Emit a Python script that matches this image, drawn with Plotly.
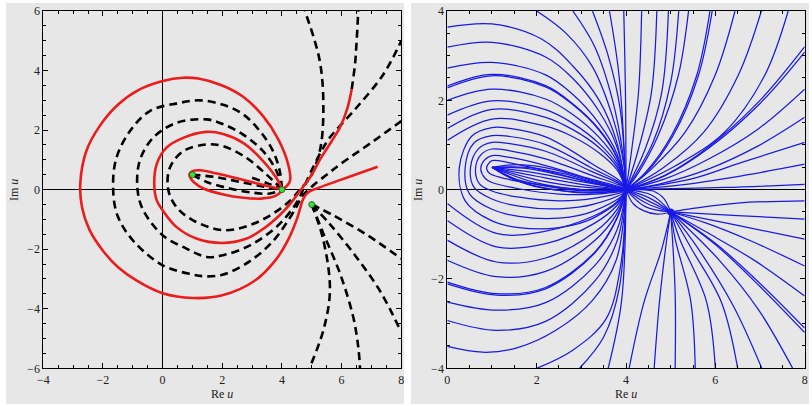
import plotly.graph_objects as go

# ---------------- LEFT PANEL DATA (Re u, Im u) ----------------
saddle_x = [1.0, 4.0, 5.0]
saddle_y = [0.5, 0.0, -0.5]

red_outer = [(4.05, 0.02), (4.27, 0.29), (4.21, 0.85), (3.88, 1.69), (3.37, 2.47), (2.7, 3.12), (2.0, 3.5),
             (1.2, 3.73), (0.69, 3.76), (0.0, 3.65), (-0.8, 3.35), (-1.5, 2.85), (-2.1, 2.15), (-2.56, 1.29),
             (-2.76, 0.2), (-2.7, -0.6), (-2.45, -1.35), (-2.0, -2.05), (-1.5, -2.6), (-0.88, -3.05),
             (0.0, -3.48), (1.02, -3.64), (2.0, -3.55), (3.1, -3.05), (3.8, -2.35), (4.25, -1.6), (4.5, -1.0),
             (4.62, -0.6), (4.72, -0.3), (4.9, -0.08), (5.2, 0.05), (5.8, 0.27), (6.5, 0.52), (7.21, 0.77)]
red_middle = [(4.0, 0.02), (3.88, 0.29), (3.37, 0.96), (2.7, 1.57), (2.03, 1.87), (1.47, 1.94), (0.69, 1.74),
              (0.13, 1.41), (-0.2, 0.85), (-0.28, 0.2), (-0.2, -0.35), (0.0, -0.69), (0.46, -1.25),
              (1.13, -1.64), (2.0, -1.79), (2.8, -1.65), (3.4, -1.3), (3.93, -0.85), (4.3, -0.45),
              (4.55, -0.12), (4.75, 0.15), (5.0, 0.5), (5.3, 1.05), (5.65, 1.6), (5.95, 2.1), (6.2, 2.75),
              (6.34, 3.37)]
red_inner = [(4.0, 0.0), (3.72, 0.07), (3.16, 0.21), (2.49, 0.38), (1.82, 0.54), (1.26, 0.65), (1.0, 0.62),
             (0.9, 0.52), (0.93, 0.4), (1.05, 0.25), (1.37, 0.04), (2.04, -0.16), (2.71, -0.27), (3.3, -0.3),
             (3.8, -0.2), (4.0, 0.0)]

dash_outer = [(4.0, 0.02), (3.93, 0.62), (3.7, 1.3), (3.26, 1.97), (2.7, 2.53), (2.03, 2.85), (1.25, 3.0),
              (0.5, 2.9), (-0.43, 2.64), (-1.1, 1.96), (-1.55, 1.06), (-1.66, 0.1), (-1.52, -0.85),
              (-1.0, -1.7), (0.0, -2.54), (1.0, -2.85), (1.42, -2.91), (2.03, -2.85), (2.93, -2.4),
              (3.71, -1.72), (4.2, -1.05), (4.5, -0.55), (4.7, -0.2), (5.0, 0.1), (5.5, 0.5), (5.95, 0.85),
              (7.07, 1.63), (8.0, 2.3)]
dash_middle = [(4.0, 0.02), (3.82, 0.62), (3.37, 1.29), (2.7, 1.85), (2.03, 2.2), (1.47, 2.36), (0.46, 2.24),
               (-0.32, 1.74), (-0.77, 0.96), (-0.84, 0.0), (-0.65, -0.69), (0.0, -1.53), (0.8, -1.98),
               (1.48, -2.26), (2.03, -2.2), (2.93, -1.87), (3.82, -1.25), (4.35, -0.65), (4.6, -0.25),
               (4.75, 0.1), (4.95, 0.55), (5.3, 1.25), (5.6, 1.74), (6.5, 2.75), (7.4, 3.87), (8.0, 4.99)]
dash_inner = [(4.0, 0.02), (3.48, 0.51), (2.81, 1.07), (2.03, 1.46), (1.47, 1.52), (0.69, 1.29), (0.24, 0.73),
              (0.19, 0.0), (0.46, -0.58), (1.02, -1.03), (2.03, -1.36), (2.93, -1.19), (3.71, -0.8),
              (4.3, -0.35), (4.6, 0.0), (4.94, 0.4), (5.27, 1.29), (5.39, 2.64), (5.27, 4.32), (4.77, 6.0)]
dash_red_ext = [(6.34, 3.37), (6.45, 4.2), (6.5, 4.88), (6.56, 6.0)]
dash_tear_a = [(1.0, 0.5), (1.8, 0.42), (2.6, 0.26), (3.4, 0.1), (4.0, 0.0)]
dash_tear_b = [(1.0, 0.5), (1.5, 0.25), (2.2, 0.05), (3.0, -0.1), (3.6, -0.13), (4.0, 0.0)]
dash_short = [(3.0, 0.4), (3.5, 0.22), (4.0, 0.02)]
dash_p3_a = [(5.0, -0.5), (5.7, -0.85), (6.9, -1.55), (8.0, -2.32)]
dash_p3_b = [(5.0, -0.5), (5.6, -1.15), (6.45, -2.2), (7.3, -3.42), (7.96, -4.7)]
dash_p3_c = [(5.0, -0.5), (5.39, -1.47), (5.95, -2.82), (6.39, -4.27), (6.56, -5.28), (6.62, -6.0)]
dash_p3_d = [(5.0, -0.5), (5.39, -1.7), (5.61, -3.38), (5.39, -4.72), (4.92, -6.0)]

# ---------------- RIGHT PANEL DATA (stream lines) ----------------
stream_loops = [
    [(4, 0), (3.2, 0.17), (2.2, 0.42), (1.4, 0.6), (1.0, 0.65), (0.9, 0.55), (0.88, 0.47), (0.95, 0.36), (1.2, 0.27), (2.0, 0.12), (3.0, 0.0), (3.6, -0.03), (4, 0)],
    [(4, 0), (3.2, 0.24), (2.2, 0.54), (1.4, 0.72), (1.0, 0.76), (0.8, 0.62), (0.75, 0.45), (0.85, 0.25), (1.0, 0.16), (1.6, 0.02), (2.5, -0.1), (3.3, -0.1), (4, 0)],
    [(4, 0), (3.2, 0.33), (2.2, 0.69), (1.4, 0.87), (1.0, 0.91), (0.75, 0.78), (0.63, 0.45), (0.72, 0.13), (1.0, -0.03), (1.6, -0.17), (2.5, -0.25), (3.3, -0.19), (4, 0)],
    [(4, 0), (3.2, 0.42), (2.2, 0.86), (1.4, 1.03), (1.0, 1.06), (0.7, 0.92), (0.52, 0.5), (0.6, 0.05), (1.0, -0.21), (1.6, -0.37), (2.5, -0.43), (3.3, -0.32), (4, 0)],
    [(4, 0), (3.2, 0.5), (2.2, 1.01), (1.4, 1.19), (1.0, 1.21), (0.6, 1.05), (0.4, 0.5), (0.5, -0.1), (1.0, -0.44), (1.6, -0.6), (2.5, -0.64), (3.3, -0.47), (4, 0)],
    [(4, 0), (3.2, 0.6), (2.2, 1.18), (1.4, 1.37), (1.0, 1.39), (0.55, 1.2), (0.27, 0.5), (0.4, -0.25), (1.0, -0.7), (1.6, -0.85), (2.5, -0.85), (3.3, -0.62), (4, 0)],
]
stream_upper_left = [
    [(0, 1.1), (1.0, 1.58), (2.2, 1.42), (2.8, 1.19), (3.4, 0.82), (3.8, 0.44), (4, 0)],
    [(0, 1.37), (1.0, 1.8), (2.2, 1.62), (2.8, 1.35), (3.4, 0.94), (3.8, 0.5), (4, 0)],
    [(0, 1.67), (1.0, 1.99), (2.2, 1.79), (2.8, 1.49), (3.4, 1.03), (3.8, 0.56), (4, 0)],
    [(0, 2.0), (1.0, 2.25), (2.2, 2.03), (2.8, 1.69), (3.4, 1.17), (3.8, 0.63), (4, 0)],
    [(0, 2.28), (1.0, 2.55), (2.2, 2.3), (2.8, 1.91), (3.4, 1.33), (3.8, 0.71), (4, 0)],
    [(0, 2.32), (1.0, 2.58), (2.2, 2.33), (2.8, 1.93), (3.4, 1.35), (3.8, 0.72), (4, 0)],
    [(0, 2.72), (1.0, 2.85), (2.2, 2.57), (2.8, 2.14), (3.4, 1.48), (3.8, 0.8), (4, 0)],
    [(0, 3.19), (1.0, 3.3), (2.2, 2.97), (2.8, 2.5), (3.4, 1.75), (3.8, 0.95), (4, 0)],
    [(0, 3.64), (1.0, 3.71), (2.1, 3.38), (2.8, 2.78), (3.4, 2.0), (3.78, 1.11), (4, 0)],
    [(2.0, 4.0), (2.66, 3.5), (3.25, 2.75), (3.7, 1.63), (3.96, 0.51), (4, 0)],
    [(2.81, 4.0), (3.3, 3.2), (3.7, 2.0), (3.93, 0.8), (4, 0)],
    [(3.25, 4.0), (3.6, 3.0), (3.87, 1.8), (4, 0)],
    [(3.63, 4.0), (3.85, 2.5), (4, 0)],
    [(3.95, 4.0), (3.99, 2.0), (4, 0)],
]
stream_lower_left = [
    [(0, -0.31), (1.1, -0.98), (2.2, -0.93), (3.3, -0.58), (3.8, -0.27), (4, 0)],
    [(0, -0.69), (1.1, -1.28), (2.2, -1.21), (3.3, -0.75), (3.8, -0.35), (4, 0)],
    [(0, -1.13), (1.1, -1.62), (2.2, -1.53), (3.3, -0.95), (3.8, -0.44), (4, 0)],
    [(0, -1.58), (1.1, -1.95), (2.2, -1.83), (3.3, -1.14), (3.8, -0.53), (4, 0)],
    [(0, -2.07), (1.1, -2.33), (2.2, -2.19), (3.3, -1.4), (3.8, -0.63), (4, 0)],
    [(0, -2.11), (1.1, -2.36), (2.2, -2.22), (3.3, -1.42), (3.8, -0.64), (4, 0)],
    [(0, -2.52), (1.1, -2.7), (2.2, -2.53), (3.3, -1.7), (3.8, -0.9), (4, 0)],
    [(0, -2.93), (1.1, -3.15), (2.2, -2.95), (3.3, -2.05), (3.8, -1.15), (4, 0)],
    [(0, -3.51), (0.79, -3.64), (1.54, -3.55), (2.43, -3.15), (3.25, -2.48), (3.78, -1.58), (4, 0)],
    [(2.0, -4.0), (2.8, -3.6), (3.55, -2.9), (3.88, -1.7), (4, 0)],
    [(2.96, -4.0), (3.5, -3.3), (3.85, -2.2), (4, 0)],
    [(3.6, -4.0), (3.9, -2.5), (4, 0)],
]
stream_lens_p1 = [
    [(1, 0.5), (1.6, 0.56), (2.4, 0.45), (3.2, 0.22), (4, 0)],
    [(1, 0.5), (1.8, 0.5), (2.6, 0.36), (3.3, 0.17), (4, 0)],
    [(1, 0.5), (1.8, 0.47), (2.6, 0.31), (3.3, 0.14), (4, 0)],
    [(1, 0.5), (2.0, 0.37), (3.0, 0.18), (4, 0)],
    [(1, 0.5), (2.0, 0.3), (3.0, 0.12), (4, 0)],
    [(1, 0.5), (2.0, 0.22), (3.0, 0.06), (4, 0)],
    [(1, 0.5), (2.0, 0.15), (3.0, 0.0), (4, 0)],
    [(1, 0.5), (1.8, 0.12), (2.6, -0.03), (3.4, -0.06), (4, 0)],
    [(1, 0.5), (1.5, 0.22), (2.4, 0.0), (3.2, -0.08), (4, 0)],
    [(1, 0.5), (1.4, 0.28), (2.2, 0.08), (3.1, -0.03), (4, 0)],
]
stream_top = [
    [(4.35, 4.0), (4.28, 2.18), (4.13, 0.91), (4, 0)],
    [(4.69, 4.0), (4.57, 2.18), (4.28, 0.91), (4, 0)],
    [(4.95, 4.0), (4.8, 2.18), (4.43, 0.91), (4, 0)],
    [(5.18, 4.0), (5.0, 2.4), (4.6, 1.05), (4, 0)],
    [(5.4, 4.0), (5.17, 2.55), (4.72, 1.21), (4.28, 0.38), (4, 0)],
    [(5.88, 4.0), (5.58, 2.55), (5.02, 1.21), (4.43, 0.38), (4, 0)],
    [(5.93, 4.0), (5.62, 2.55), (5.05, 1.2), (4.45, 0.37), (4, 0)],
    [(6.44, 4.0), (5.99, 2.55), (5.32, 1.28), (4.57, 0.46), (4, 0)],
    [(7.03, 4.0), (6.52, 2.58), (5.75, 1.3), (4.85, 0.5), (4, 0)],
    [(7.63, 4.0), (7.1, 2.55), (6.2, 1.28), (5.1, 0.53), (4, 0)],
]
stream_right_p2 = [
    [(8, 3.2), (7.0, 2.0), (5.84, 0.95), (4.87, 0.32), (4, 0)],
    [(8, 3.08), (7.0, 1.93), (5.84, 0.92), (4.87, 0.31), (4, 0)],
    [(8, 2.25), (6.96, 1.36), (5.84, 0.68), (4.87, 0.24), (4, 0)],
    [(8, 1.62), (6.96, 0.98), (5.84, 0.46), (4.72, 0.12), (4, 0)],
    [(8, 1.06), (6.59, 0.61), (5.47, 0.24), (4, 0)],
    [(8, 0.57), (6.59, 0.31), (5.1, 0.09), (4, 0)],
    [(8, 0.12), (6.22, 0.05), (4, 0)],
]
stream_p3 = [
    [(8, -0.25), (6.5, -0.3), (5.5, -0.42), (5, -0.5)],
    [(8, -0.66), (6.5, -0.58), (5, -0.5)],
    [(8, -1.11), (6.5, -0.8), (5, -0.5)],
    [(8, -1.71), (6.8, -1.15), (5.8, -0.75), (5, -0.5)],
    [(8, -2.38), (6.9, -1.6), (5.8, -0.95), (5, -0.5)],
    [(8, -3.1), (7.0, -2.1), (6.0, -1.2), (5, -0.5)],
    [(8, -3.2), (7.0, -2.17), (6.0, -1.23), (5, -0.5)],
    [(7.73, -4), (6.96, -2.68), (6.07, -1.56), (5, -0.5)],
    [(7.04, -4), (6.4, -2.6), (5.6, -1.3), (5, -0.5)],
    [(6.5, -4), (6.14, -2.53), (5.47, -1.33), (5, -0.5)],
    [(6.0, -4), (5.8, -2.5), (5.2, -1.1), (5, -0.5)],
    [(5.55, -4), (5.45, -2.5), (5.1, -1.1), (5, -0.5)],
    [(5.1, -4), (5.1, -2.3), (5, -0.5)],
    [(4.63, -4), (4.75, -2.5), (4.9, -1.2), (5, -0.5)],
    [(4.07, -4), (4.4, -2.53), (4.8, -1.33), (5, -0.5)],
]
stream_lens_p2 = [
    [(4, 0), (4.35, 0.0), (4.61, -0.03), (4.85, -0.2), (5, -0.5)],
    [(4, 0), (4.57, -0.12), (5, -0.5)],
    [(4, 0), (4.53, -0.19), (5, -0.5)],
    [(4, 0), (4.5, -0.25), (5, -0.5)],
    [(4, 0), (4.47, -0.31), (5, -0.5)],
    [(4, 0), (4.43, -0.38), (5, -0.5)],
    [(4, 0), (4.15, -0.3), (4.39, -0.47), (4.7, -0.55), (5, -0.5)],
]
stream_points_x = [4.0, 5.0]
stream_points_y = [0.0, -0.5]

# ---------------- FIGURE ----------------
W, H = 812, 406
L_X0, L_X1 = 43.3, 401.2
R_X0, R_X1 = 447.3, 804.7
Y_TOP, Y_BOT = 11.0, 368.3
RED = "rgb(235,28,28)"
BLUE = "rgb(25,25,230)"
FONT = "Liberation Serif"


def xy(curve):
    return [p[0] for p in curve], [p[1] for p in curve]


def join(curves):
    xs, ys = [], []
    for c in curves:
        cx, cy = xy(c)
        xs += cx + [None]
        ys += cy + [None]
    return xs, ys


fig = go.Figure()

for c in [dash_outer, dash_middle, dash_inner, dash_red_ext, dash_tear_a, dash_tear_b, dash_short,
          dash_p3_a, dash_p3_b, dash_p3_c, dash_p3_d]:
    cx, cy = xy(c)
    fig.add_trace(go.Scatter(x=cx, y=cy, mode="lines", line=dict(color="black", width=2.6, dash="8px,5px",
                                                              shape="spline"),
                             xaxis="x", yaxis="y", hoverinfo="skip", showlegend=False))
for c in [red_outer, red_middle, red_inner]:
    cx, cy = xy(c)
    fig.add_trace(go.Scatter(x=cx, y=cy, mode="lines", line=dict(color=RED, width=2.6, shape="spline"),
                             xaxis="x", yaxis="y", hoverinfo="skip", showlegend=False))
fig.add_trace(go.Scatter(x=saddle_x, y=saddle_y, mode="markers",
                         marker=dict(color="rgb(60,220,60)", size=6, line=dict(color="rgb(20,90,20)", width=0.8)),
                         xaxis="x", yaxis="y", hoverinfo="skip", showlegend=False))

for fam in [stream_loops, stream_upper_left, stream_lower_left, stream_lens_p1, stream_top,
            stream_right_p2, stream_p3, stream_lens_p2]:
    sx, sy = join(fam)
    fig.add_trace(go.Scatter(x=sx, y=sy, mode="lines",
                             line=dict(color=BLUE, width=1.25, shape="spline", smoothing=1.0),
                             xaxis="x2", yaxis="y2", hoverinfo="skip", showlegend=False))
fig.add_trace(go.Scatter(x=stream_points_x, y=stream_points_y, mode="markers",
                         marker=dict(color=BLUE, size=7), xaxis="x2", yaxis="y2",
                         hoverinfo="skip", showlegend=False))

tick_font = dict(family=FONT, size=12, color="#222")
common = dict(showline=True, linecolor="black", linewidth=1, mirror="ticks", ticks="inside", ticklen=5,
              tickwidth=1, tickcolor="black", showgrid=False, tickfont=tick_font, fixedrange=True,
              automargin=False,
              minor=dict(ticks="inside", ticklen=3, tickcolor="black", dtick=0.5, showgrid=False))

fig.update_layout(
    width=W, height=H, margin=dict(l=0, r=0, t=0, b=0, autoexpand=False),
    paper_bgcolor="white", plot_bgcolor="rgb(231,231,231)",
    xaxis=dict(domain=[L_X0 / W, L_X1 / W], range=[-4, 8], tickvals=[-4, -2, 0, 2, 4, 6, 8],
               zeroline=True, zerolinecolor="black", zerolinewidth=1, anchor="y", **common),
    yaxis=dict(domain=[1 - Y_BOT / H, 1 - Y_TOP / H], range=[-6, 6], tickvals=[-6, -4, -2, 0, 2, 4, 6],
               zeroline=True, zerolinecolor="black", zerolinewidth=1, anchor="x", **common),
    xaxis2=dict(domain=[R_X0 / W, R_X1 / W], range=[0, 8], tickvals=[0, 2, 4, 6, 8],
                zeroline=False, anchor="y2", **common),
    yaxis2=dict(domain=[1 - Y_BOT / H, 1 - Y_TOP / H], range=[-4, 4], tickvals=[-4, -2, 0, 2, 4],
                zeroline=True, zerolinecolor="black", zerolinewidth=1, anchor="x2", **common),
    shapes=[
        dict(type="rect", xref="paper", yref="paper", x0=6 / W, x1=404 / W, y0=1 - 404 / H, y1=1 - 3 / H,
             fillcolor="rgb(231,231,231)", line=dict(width=0), layer="below"),
        dict(type="rect", xref="paper", yref="paper", x0=411 / W, x1=809 / W, y0=1 - 404 / H, y1=1 - 3 / H,
             fillcolor="rgb(231,231,231)", line=dict(width=0), layer="below"),
    ],
    annotations=[
        dict(text="Re <i>u</i>", xref="paper", yref="paper", x=(L_X0 + L_X1) / 2 / W, y=1 - 394 / H,
             showarrow=False, font=dict(family=FONT, size=12, color="#222"), xanchor="center", yanchor="middle"),
        dict(text="Im <i>u</i>", xref="paper", yref="paper", x=14 / W, y=1 - 190 / H, textangle=-90,
             showarrow=False, font=dict(family=FONT, size=12, color="#222"), xanchor="center", yanchor="middle"),
        dict(text="Re <i>u</i>", xref="paper", yref="paper", x=(R_X0 + R_X1) / 2 / W, y=1 - 394 / H,
             showarrow=False, font=dict(family=FONT, size=12, color="#222"), xanchor="center", yanchor="middle"),
        dict(text="Im <i>u</i>", xref="paper", yref="paper", x=418 / W, y=1 - 190 / H, textangle=-90,
             showarrow=False, font=dict(family=FONT, size=12, color="#222"), xanchor="center", yanchor="middle"),
    ],
)

fig.write_html("out.html")
